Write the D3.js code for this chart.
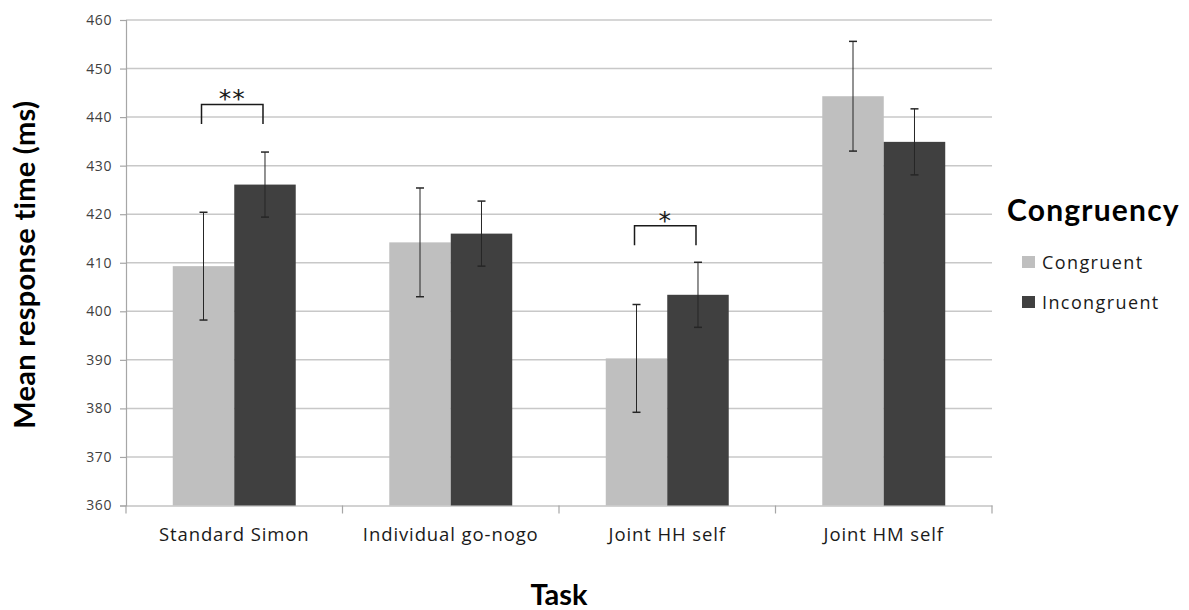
<!DOCTYPE html>
<html>
<head>
<meta charset="utf-8">
<script src="https://cdn.jsdelivr.net/npm/d3@7"></script>
<style>
  body { margin: 0; background: #fff; }
  svg { display: block; font-family: Lato, "Open Sans", sans-serif; }
</style>
</head>
<body>
<svg id="chart"></svg>
<script>
const tasks = ['Standard Simon', 'Individual go-nogo', 'Joint HH self', 'Joint HM self'];
const series = ['Congruent', 'Incongruent'];
const congruent = [409.3, 414.2, 390.3, 444.3];
const incongruent = [426.1, 416.0, 403.4, 434.9];
const congruentErr = [11.1, 11.2, 11.1, 11.3];
const incongruentErr = [6.7, 6.7, 6.7, 6.8];
const yTicks = [360, 370, 380, 390, 400, 410, 420, 430, 440, 450, 460];

// significance brackets: task index, label, bracket height (ms)
const sigTasks = [0, 2];
const sigLabels = ['**', '*'];
const sigLevels = [442.6, 417.6];

const colors = { Congruent: '#bfbfbf', Incongruent: '#404040' };

const width = 1189, height = 610;
const margin = { top: 20, right: 197, bottom: 104.5, left: 126 };
const bodyFont = '"Open Sans", sans-serif';

const svg = d3.select('#chart')
  .attr('width', width)
  .attr('height', height);

const x = d3.scaleBand()
  .domain(tasks)
  .range([margin.left, width - margin.right])
  .padding(0);

const bw = x.bandwidth();
const barW = bw * 0.284;

const xs = d3.scaleBand()
  .domain(series)
  .range([bw / 2 - barW, bw / 2 + barW]);

const y = d3.scaleLinear()
  .domain([360, 460])
  .range([height - margin.bottom, margin.top]);

const rows = tasks.map((t, i) => ({
  task: t,
  values: [
    { key: 'Congruent', value: congruent[i], err: congruentErr[i] },
    { key: 'Incongruent', value: incongruent[i], err: incongruentErr[i] },
  ]
}));

// gridlines
svg.append('g')
  .selectAll('line')
  .data(yTicks.filter(d => d > 360))
  .join('line')
  .attr('x1', margin.left)
  .attr('x2', width - margin.right)
  .attr('y1', d => y(d))
  .attr('y2', d => y(d))
  .attr('stroke', '#c8c8c8')
  .attr('stroke-width', 1.5);

// y axis
const yAxis = svg.append('g')
  .attr('transform', `translate(${margin.left},0)`)
  .call(d3.axisLeft(y).tickValues(yTicks).tickSize(6).tickPadding(8));
yAxis.select('.domain').attr('stroke', '#a6a6a6').attr('stroke-width', 1.2);
yAxis.selectAll('.tick line').attr('stroke', '#a6a6a6').attr('stroke-width', 1.2);
yAxis.selectAll('.tick text')
  .attr('fill', '#404040')
  .style('font-size', '14px')
  .style('letter-spacing', '0.6px')
  .style('font-family', bodyFont);

// x axis
const xAxis = svg.append('g')
  .attr('transform', `translate(0,${y(360)})`)
  .call(d3.axisBottom(x).tickSize(0).tickPadding(22));
xAxis.select('.domain').attr('stroke', '#a6a6a6').attr('stroke-width', 1.2);
xAxis.selectAll('.tick text')
  .attr('fill', '#1a1a1a')
  .style('font-size', '18.5px')
  .style('letter-spacing', '0.9px')
  .style('font-family', bodyFont);

// category boundary ticks
svg.append('g')
  .selectAll('line')
  .data(tasks.concat(['end']))
  .join('line')
  .attr('x1', (d, i) => i < tasks.length ? x(d) : x(tasks[tasks.length - 1]) + bw)
  .attr('x2', (d, i) => i < tasks.length ? x(d) : x(tasks[tasks.length - 1]) + bw)
  .attr('y1', y(360))
  .attr('y2', y(360) + 8)
  .attr('stroke', '#a6a6a6')
  .attr('stroke-width', 1.2);

// bars
const groups = svg.append('g')
  .selectAll('g')
  .data(rows)
  .join('g')
  .attr('transform', d => `translate(${x(d.task)},0)`);

groups.selectAll('rect')
  .data(d => d.values)
  .join('rect')
  .attr('x', d => xs(d.key))
  .attr('width', xs.bandwidth())
  .attr('y', d => y(d.value))
  .attr('height', d => y(360) - y(d.value))
  .attr('fill', d => colors[d.key]);

// error bars
const eb = groups.selectAll('g.err')
  .data(d => d.values)
  .join('g')
  .attr('class', 'err')
  .attr('stroke', '#262626')
  .attr('stroke-width', 1);

eb.append('line')
  .attr('x1', d => xs(d.key) + xs.bandwidth() / 2)
  .attr('x2', d => xs(d.key) + xs.bandwidth() / 2)
  .attr('y1', d => y(d.value + d.err))
  .attr('y2', d => y(d.value - d.err));

[1, -1].forEach(s => {
  eb.append('line')
    .attr('x1', d => xs(d.key) + xs.bandwidth() / 2 - 4)
    .attr('x2', d => xs(d.key) + xs.bandwidth() / 2 + 4)
    .attr('y1', d => y(d.value + s * d.err))
    .attr('y2', d => y(d.value + s * d.err))
    .attr('stroke-width', 1.5);
});

// significance brackets
sigTasks.forEach((ti, k) => {
  const t = tasks[ti];
  const x0 = x(t) + xs('Congruent') + xs.bandwidth() / 2 - 2;
  const x1 = x(t) + xs('Incongruent') + xs.bandwidth() / 2 - 2;
  const top = y(sigLevels[k]);
  const leg = y(sigLevels[k] - 4);
  svg.append('path')
    .attr('d', `M${x0},${leg} V${top} H${x1} V${leg}`)
    .attr('fill', 'none')
    .attr('stroke', '#1a1a1a')
    .attr('stroke-width', 1.5);
  svg.append('text')
    .attr('x', (x0 + x1) / 2)
    .attr('y', top + 3)
    .attr('text-anchor', 'middle')
    .attr('fill', '#1a1a1a')
    .style('font-size', '25px')
    .style('font-family', 'DejaVu Sans, sans-serif')
    .style('letter-spacing', '1px')
    .text(sigLabels[k]);
});

// axis titles
svg.append('text')
  .attr('x', x(tasks[0]) + (width - margin.right - margin.left) / 2)
  .attr('y', 605)
  .attr('text-anchor', 'middle')
  .attr('fill', '#000')
  .style('font-size', '29px')
  .style('font-weight', 'bold')
  .text('Task');

svg.append('text')
  .attr('transform', `translate(35,${(y(360) + y(460)) / 2 + 2}) rotate(-90)`)
  .attr('text-anchor', 'middle')
  .attr('fill', '#000')
  .style('font-size', '29px')
  .style('font-weight', 'bold')
  .style('letter-spacing', '0.3px')
  .text('Mean response time (ms)');

// legend
const legend = svg.append('g')
  .attr('transform', 'translate(1007,0)');

legend.append('text')
  .attr('x', 0)
  .attr('y', 221)
  .attr('fill', '#000')
  .style('font-size', '30px')
  .style('font-weight', 'bold')
  .style('letter-spacing', '1.2px')
  .text('Congruency');

const li = legend.selectAll('g.item')
  .data(series)
  .join('g')
  .attr('class', 'item')
  .attr('transform', (d, i) => `translate(15,${256 + i * 40})`);

li.append('rect')
  .attr('width', 13)
  .attr('height', 12)
  .attr('fill', d => colors[d]);

li.append('text')
  .attr('x', 20)
  .attr('y', 12.5)
  .attr('fill', '#1a1a1a')
  .style('font-size', '18px')
  .style('letter-spacing', '1.4px')
  .style('font-family', bodyFont)
  .text(d => d);
</script>
</body>
</html>
